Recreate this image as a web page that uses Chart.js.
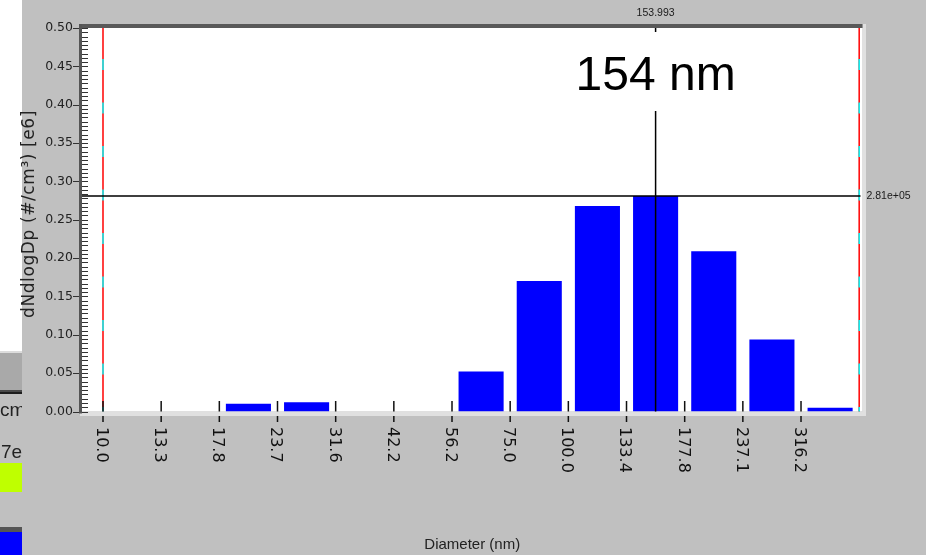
<!DOCTYPE html>
<html>
<head>
<meta charset="utf-8">
<title>dN/dlogDp size distribution</title>
<script src="https://cdn.jsdelivr.net/npm/chart.js@4/dist/chart.umd.min.js"></script>
<style>
  html, body { margin: 0; padding: 0; background: #c0c0c0; overflow: hidden; }
  canvas { display: block; }
</style>
</head>
<body>
<canvas id="psd" width="926" height="555"></canvas>
<script>
// Bin lower edges (nm), 8 channels per decade
const tickLabels = ['10.0', '13.3', '17.8', '23.7', '31.6', '42.2', '56.2', '75.0', '100.0', '133.4', '177.8', '237.1', '316.2'];
// Outer edges of the measured range (nm)
const rangeEdges = [10.0, 421.7];
// dN/dlogDp per bin, in units of 1e6 #/cm³
const binValues = [0, 0, 0.010, 0.012, 0, 0, 0.052, 0.170, 0.268, 0.281, 0.209, 0.094, 0.005];
// Cursor position: mode diameter (nm) and its concentration (1e6 #/cm³)
const cursorDiameter = 153.993;
const cursorLevel = 0.281;
// Y axis ticks
const yMax = 0.5;
const yStep = 0.05;
const yMinorPerMajor = 9;

const channelsPerDecade = 8;
const toIndex = d => Math.log10(d / rangeEdges[0]) * channelsPerDecade;

const barData = binValues.map((v, i) => ({ x: i + 0.5, y: v }));

const expLabel = v => v.toExponential(2).replace(/e([+-])(\d)$/, 'e$10$2');

const framePlugin = {
  id: 'frame',
  beforeDraw(chart) {
    const { ctx, chartArea: a, width, height } = chart;
    ctx.save();
    ctx.fillStyle = '#c0c0c0';
    ctx.fillRect(0, 0, width, height);

    // neighbouring panel strip on the left
    ctx.fillStyle = '#ffffff'; ctx.fillRect(0, 0, 22, 351);
    ctx.fillStyle = '#dcdcdc'; ctx.fillRect(0, 351, 22, 2);
    ctx.fillStyle = '#a9a9a9'; ctx.fillRect(0, 353, 22, 37);
    ctx.fillStyle = '#4a4a4a'; ctx.fillRect(0, 390, 22, 2);
    ctx.fillStyle = '#1e1e1e'; ctx.fillRect(0, 392, 22, 2);
    ctx.fillStyle = '#bfff00'; ctx.fillRect(0, 463, 22, 29);
    ctx.fillStyle = '#555555'; ctx.fillRect(0, 527, 22, 5);
    ctx.fillStyle = '#0000ff'; ctx.fillRect(0, 532, 22, 23);
    ctx.save();
    ctx.beginPath(); ctx.rect(0, 395, 22, 68); ctx.clip();
    ctx.fillStyle = '#222';
    ctx.font = '19px "Liberation Sans", Arial, sans-serif';
    ctx.textBaseline = 'alphabetic';
    ctx.textAlign = 'left';
    ctx.fillText('cm', 0, 416);
    ctx.fillText('7e', 1, 458);
    ctx.restore();

    // plot well with bevelled frame
    ctx.fillStyle = '#ffffff';
    ctx.fillRect(a.left, a.top, a.right - a.left, a.bottom - a.top);
    ctx.fillStyle = '#e0e0e0';
    ctx.fillRect(a.left - 2, a.bottom, a.right - a.left + 5.5, 4.5);
    ctx.fillRect(a.right, a.top - 4, 3.5, a.bottom - a.top + 8.5);
    ctx.fillStyle = '#595959';
    ctx.fillRect(a.left - 3, a.top - 4, a.right - a.left + 3, 4);
    ctx.fillStyle = '#555555';
    ctx.fillRect(a.left - 3, a.top - 4, 3, a.bottom - a.top + 6);
    ctx.restore();
  },
  afterDatasetsDraw(chart) {
    const { ctx, chartArea: a } = chart;
    const xs = chart.scales.x, ys = chart.scales.y;
    ctx.save();

    // y ticks: minor inside, major also outside
    ctx.strokeStyle = '#333';
    ctx.lineWidth = 1;
    const nMinor = Math.round(yMax / yStep) * yMinorPerMajor;
    for (let k = 0; k <= nMinor; k++) {
      const py = Math.round(ys.getPixelForValue(k * yStep / yMinorPerMajor)) + 0.5;
      ctx.beginPath();
      ctx.moveTo(a.left, py); ctx.lineTo(a.left + 6, py);
      if (k % yMinorPerMajor === 0) { ctx.moveTo(a.left - 9, py); ctx.lineTo(a.left - 3, py); }
      ctx.stroke();
    }

    // range limit lines (red with cyan dashes)
    rangeEdges.forEach(d => {
      const px = xs.getPixelForValue(toIndex(d));
      ctx.lineWidth = 1.5;
      ctx.setLineDash([]);
      ctx.strokeStyle = '#ff0000';
      ctx.beginPath(); ctx.moveTo(px, a.top); ctx.lineTo(px, a.bottom); ctx.stroke();
      ctx.strokeStyle = '#00ffff';
      ctx.setLineDash([11, 32.5]);
      ctx.lineDashOffset = 12.5;
      ctx.beginPath(); ctx.moveTo(px, a.top); ctx.lineTo(px, a.bottom); ctx.stroke();
    });
    ctx.setLineDash([]);

    // x ticks at bin edges
    ctx.strokeStyle = '#111';
    ctx.lineWidth = 1.5;
    tickLabels.forEach((_, i) => {
      const px = xs.getPixelForValue(i);
      ctx.beginPath();
      ctx.moveTo(px, a.bottom - 10.5); ctx.lineTo(px, a.bottom);
      ctx.moveTo(px, a.bottom + 4.5); ctx.lineTo(px, a.bottom + 10.5);
      ctx.stroke();
    });

    // cursor cross
    const cx = xs.getPixelForValue(toIndex(cursorDiameter));
    const cy = ys.getPixelForValue(cursorLevel);
    ctx.strokeStyle = '#000';
    ctx.lineWidth = 1.5;
    ctx.beginPath();
    ctx.moveTo(a.left, cy); ctx.lineTo(a.right - 2, cy);
    ctx.moveTo(cx, a.top); ctx.lineTo(cx, a.top + 4);
    ctx.moveTo(cx, a.top + 83); ctx.lineTo(cx, a.bottom);
    ctx.stroke();

    // cursor readouts
    ctx.fillStyle = '#000';
    ctx.textAlign = 'center';
    ctx.textBaseline = 'alphabetic';
    ctx.font = '48px "Liberation Sans", Arial, sans-serif';
    ctx.fillText(Math.round(cursorDiameter) + ' nm', cx, a.top + 62);

    ctx.fillStyle = '#1a1a1a';
    ctx.font = '10.5px "Liberation Sans", Arial, sans-serif';
    ctx.textBaseline = 'middle';
    ctx.fillText(cursorDiameter.toFixed(3), cx, 13);
    ctx.textAlign = 'left';
    ctx.fillText(expLabel(cursorLevel * 1e6), a.right + 4, cy);

    // x tick labels, rotated clockwise
    ctx.fillStyle = '#111';
    ctx.font = '16px "DejaVu Sans", sans-serif';
    ctx.textAlign = 'left';
    ctx.textBaseline = 'middle';
    tickLabels.forEach((lab, i) => {
      const px = xs.getPixelForValue(i);
      ctx.save();
      ctx.translate(px - 2, a.bottom + 15.5);
      ctx.rotate(Math.PI / 2);
      ctx.fillText(lab, 0, 0);
      ctx.restore();
    });

    // axis titles
    ctx.fillStyle = '#222';
    ctx.font = '15px "Liberation Sans", Arial, sans-serif';
    ctx.textAlign = 'center';
    ctx.fillText('Diameter (nm)', (a.left + a.right) / 2, 545);

    ctx.save();
    ctx.translate(30, 214);
    ctx.rotate(-Math.PI / 2);
    ctx.font = '17px "DejaVu Sans", sans-serif';
    ctx.letterSpacing = '0.6px';
    ctx.fillText('dNdlogDp (#/cm³) [e6]', 0, 0);
    ctx.restore();

    ctx.restore();
  }
};

new Chart(document.getElementById('psd'), {
  type: 'bar',
  data: {
    datasets: [{
      data: barData,
      backgroundColor: '#0000ff',
      borderWidth: 0,
      categoryPercentage: 1,
      barPercentage: 0.775
    }]
  },
  options: {
    responsive: false,
    animation: false,
    devicePixelRatio: 1,
    layout: { padding: { top: 28, right: 63.5, bottom: 143.5, left: 0 } },
    plugins: { legend: { display: false }, tooltip: { enabled: false } },
    scales: {
      x: {
        type: 'linear',
        display: false,
        offset: false,
        min: -0.361,
        max: 13.057
      },
      y: {
        min: 0,
        max: yMax,
        afterFit(scale) { scale.width = 82; },
        grid: { display: false, drawTicks: false },
        border: { display: false },
        ticks: {
          stepSize: yStep,
          padding: 9,
          color: '#222',
          font: { family: '"DejaVu Sans", sans-serif', size: 12.5 },
          callback: v => v.toFixed(2)
        }
      }
    }
  },
  plugins: [framePlugin]
});
</script>
</body>
</html>
